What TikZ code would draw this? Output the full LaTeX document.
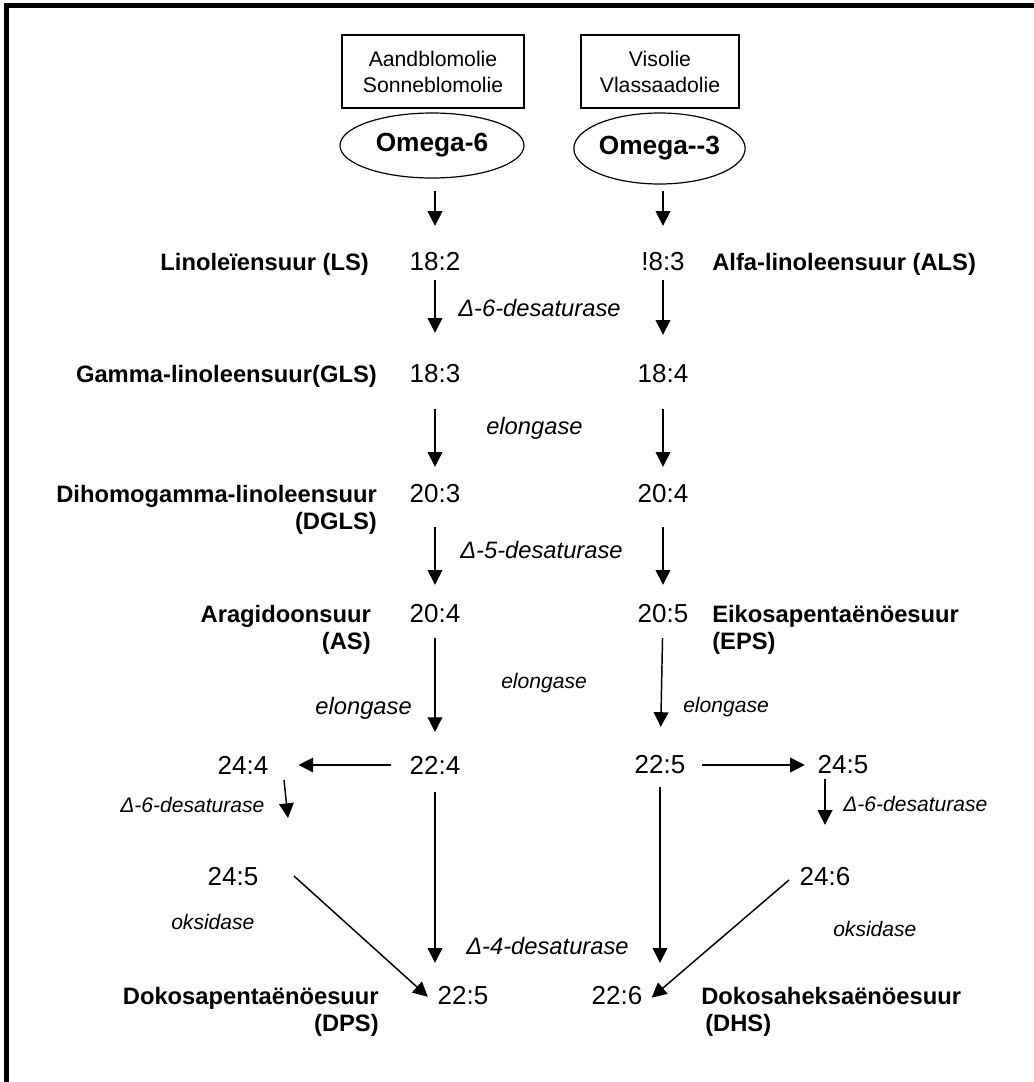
\documentclass[tikz,border=0pt]{standalone}
\usepackage{fontspec}
\setmainfont{Liberation Sans}
\usepackage{tikz}
\usetikzlibrary{shapes.geometric}
\usetikzlibrary{arrows.meta}

\begin{document}
\begin{tikzpicture}[
      x=0.75pt, y=-0.75pt,
      num/.style={inner sep=0pt, font=\fontsize{19.5}{23}\selectfont},
      acid/.style={inner sep=0pt, font=\fontsize{17.8}{20.25}\selectfont\bfseries},
      enz/.style={inner sep=0pt, anchor=west, font=\fontsize{17.8}{21}\selectfont\itshape},
      enzs/.style={enz, font=\fontsize{15.8}{19}\selectfont\itshape},
      oil/.style={draw, line width=0.9pt, inner sep=0pt, minimum height=54.75pt, align=center,
        font=\fontsize{15.9}{19.5}\selectfont},
      omega/.style={draw, ellipse, line width=0.9pt, inner sep=0pt, font=\fontsize{19.7}{23}\selectfont\bfseries},
      arr/.style={-{Triangle[length=11pt,width=11pt]}, line width=1.1pt},
    ]
    \useasboundingbox (0,0) rectangle (1034,1082);
    \draw[line width=4.2pt] (6.3,1082) -- (6.3,5.6) -- (1034,5.6);

    \node[oil, minimum width=136.5pt] (sun) at (433,71.5) {Aandblomolie\\Sonneblomolie};
    \node[oil, minimum width=118.5pt] (fish) at (660,71.5) {Visolie\\Vlassaadolie};
    \node[omega, minimum width=138pt, minimum height=48.75pt] (om6) at (432,145.5) {Omega-6};
    \node[omega, minimum width=128.25pt, minimum height=53.25pt] (om3) at (659.5,148.5) {Omega-{}-3};

    \node[num] (n182) at (435,262) {18:2};
    \node[num] (n183) at (435,374) {18:3};
    \node[num] (n203) at (435,494) {20:3};
    \node[num] (n204) at (435,614) {20:4};
    \node[num] (n224) at (435,765) {22:4};
    \node[num] (n244) at (243,765) {24:4};
    \node[num] (n245) at (233,877) {24:5};
    \node[num] (n225) at (463,996) {22:5};

    \node[num] (m183) at (663,262) {!8:3};
    \node[num] (m184) at (663,374) {18:4};
    \node[num] (m204) at (663,494) {20:4};
    \node[num] (m205) at (663,614) {20:5};
    \node[num] (m225) at (660,765) {22:5};
    \node[num] (m245) at (843,765) {24:5};
    \node[num] (m246) at (825,877) {24:6};
    \node[num] (m226) at (617,996) {22:6};

    \node[acid, anchor=north east] (ls) at (369,253.5) {Linoleïensuur (LS)};
    \node[acid, anchor=north east] (gls) at (377,365.5) {Gamma-linoleensuur(GLS)};
    \node[acid, anchor=north east, align=right] (dgls) at (377,485.5) {Dihomogamma-linoleensuur\\(DGLS)};
    \node[acid, anchor=north east, align=right] (as) at (371,605.5) {Aragidoonsuur\\(AS)};
    \node[acid, anchor=north east, align=right] (dps) at (379,987.5) {Dokosapentaënöesuur\\(DPS)};
    \node[acid, anchor=north west] (als) at (712,253.5) {Alfa-linoleensuur (ALS)};
    \node[acid, anchor=north west, align=left] (eps) at (712,605.5) {Eikosapentaënöesuur\\(EPS)};
    \node[acid, anchor=north west, align=left] (dhs) at (701,987.5) {Dokosaheksaënöesuur\\\hspace{3pt}(DHS)};

    \node[enz] (des6a) at (458,308) {Δ-6-desaturase};
    \node[enz] (elo1) at (486,428) {elongase};
    \node[enz] (des5) at (460,550) {Δ-5-desaturase};
    \node[enzs] (elo2) at (501,683) {elongase};
    \node[enz, anchor=east] (elo3) at (412,708) {elongase};
    \node[enzs] (elo4) at (683,707) {elongase};
    \node[enzs] (des6b) at (120,805) {Δ-6-desaturase};
    \node[enzs] (des6c) at (843,804) {Δ-6-desaturase};
    \node[enzs] (oks1) at (171,922) {oksidase};
    \node[enzs] (oks2) at (833,929) {oksidase};
    \node[enz] (des4) at (466,946) {Δ-4-desaturase};

    \coordinate (p244) at (284,780);
    \coordinate (q244) at (288,818);
    \coordinate (p245) at (294,876);
    \coordinate (p246) at (789,880);

    \draw[arr, shorten <=9pt, shorten >=20pt] (n182 |- om6.south) -- (n182);
    \draw[arr, shorten <=6.5pt, shorten >=23.8pt] (n182) -- (n183);
    \draw[arr, shorten <=19.3pt, shorten >=13.3pt] (n183) -- (n203);
    \draw[arr, shorten <=17.8pt, shorten >=14.8pt] (n203) -- (n204);
    \draw[arr, shorten <=11pt, shorten >=17.8pt] (n204) -- (n224);
    \draw[arr, shorten <=13.3pt, shorten >=17.8pt] (n224) -- (n224 |- n225.north);
    \draw[arr, shorten <=13.5pt, shorten >=22.5pt] (n224) -- (n244);
    \draw[arr] (p244) -- (q244);
    \draw[arr, shorten >=9.75pt] (p245) -- (n225.south west);

    \draw[arr, shorten <=4.5pt, shorten >=20pt] (m183 |- om3.south) -- (m183);
    \draw[arr, shorten <=6.5pt, shorten >=22.3pt] (m183) -- (m184);
    \draw[arr, shorten <=19.3pt, shorten >=13.3pt] (m184) -- (m204);
    \draw[arr, shorten <=17.8pt, shorten >=14.8pt] (m204) -- (m205);
    \draw[arr, shorten <=11pt, shorten >=21.5pt] (m205) -- (m225);
    \draw[arr, shorten <=9.5pt, shorten >=17.8pt] (m225) -- (m225 |- m226.north);
    \draw[arr, shorten <=12.5pt, shorten >=9.5pt] (m225) -- (m245);
    \draw[arr, shorten <=3.5pt, shorten >=32pt] (m246 |- m245.south) -- (m246);
    \draw[arr, shorten >=9pt] (p246) -- (m226.south east);
\end{tikzpicture}
\end{document}
